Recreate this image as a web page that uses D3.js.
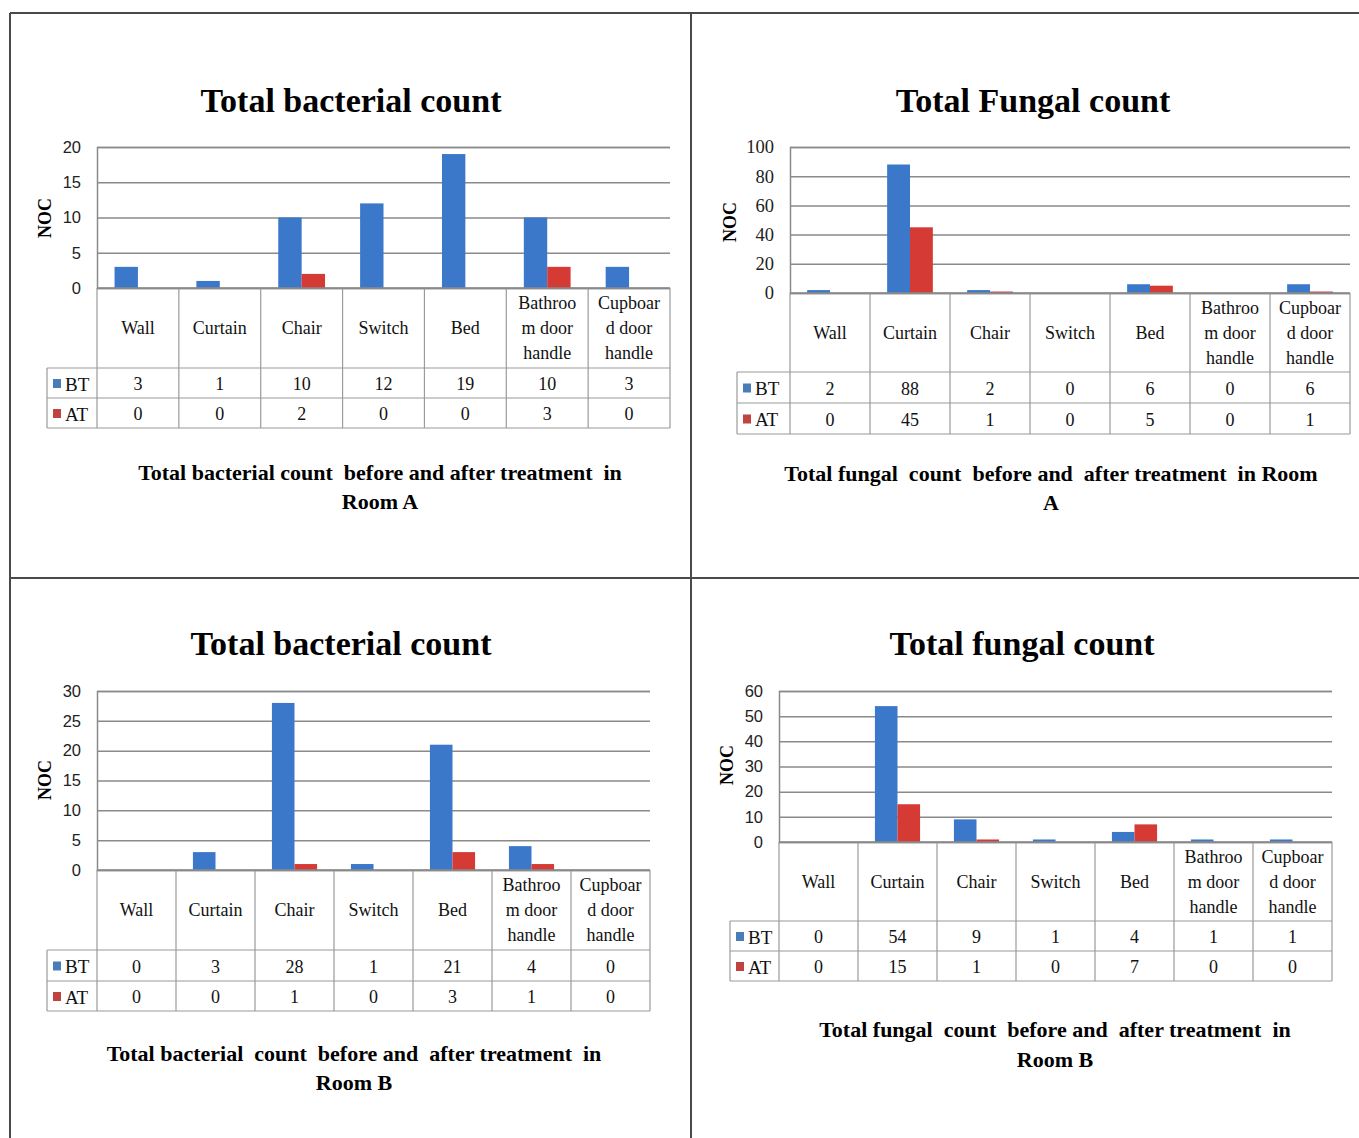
<!DOCTYPE html>
<html><head><meta charset="utf-8">
<script src="https://cdn.jsdelivr.net/npm/d3@7"></script>
<style>
html,body{margin:0;padding:0;background:#fff;}
svg{display:block;}
</style></head>
<body>
<svg id="chart" width="1359" height="1138"></svg>
<script>
// ---------- data ----------
const categories = ["Wall","Curtain","Chair","Switch","Bed","Bathroom door handle","Cupboard door handle"];
const categoryLines = [["Wall"],["Curtain"],["Chair"],["Switch"],["Bed"],["Bathroo","m door","handle"],["Cupboar","d door","handle"]];
const seriesNames = ["BT","AT"];
const bacteriaA_BT = [3,1,10,12,19,10,3];
const bacteriaA_AT = [0,0,2,0,0,3,0];
const fungiA_BT = [2,88,2,0,6,0,6];
const fungiA_AT = [0,45,1,0,5,0,1];
const bacteriaB_BT = [0,3,28,1,21,4,0];
const bacteriaB_AT = [0,0,1,0,3,1,0];
const fungiB_BT = [0,54,9,1,4,1,1];
const fungiB_AT = [0,15,1,0,7,0,0];
const ticksBacA = [0,5,10,15,20];
const ticksFungA = [0,20,40,60,80,100];
const ticksBacB = [0,5,10,15,20,25,30];
const ticksFungB = [0,10,20,30,40,50,60];
const titles = ["Total bacterial count","Total Fungal count","Total bacterial count","Total fungal count"];
const captions = [
  ["Total bacterial count  before and after treatment  in","Room A"],
  ["Total fungal  count  before and  after treatment  in Room","A"],
  ["Total bacterial  count  before and  after treatment  in","Room B"],
  ["Total fungal  count  before and  after treatment  in","Room B"]
];
const yLabel = "NOC";

// ---------- layout ----------
const colors = {BT:"#3b78c9", AT:"#d63a35"};
const legendColors = {BT:"#4a7cb8", AT:"#bf4340"};
const serif = "'Liberation Serif','Times New Roman',serif";
const sans = "'Liberation Sans',Arial,sans-serif";

const panels = [
  {bt:bacteriaA_BT, at:bacteriaA_AT, ticks:ticksBacA, title:titles[0], caption:captions[0],
   left:97, right:670, top:147, bottom:288, rows:[368,398,428], legLeft:47,
   titleX:351, titleY:112, capX:380, capY:[480,509], nocX:45, nocY:218, tickFont:sans, tickSize:16.5},
  {bt:fungiA_BT, at:fungiA_AT, ticks:ticksFungA, title:titles[1], caption:captions[1],
   left:790, right:1350, top:147, bottom:293, rows:[372,403,434], legLeft:737,
   titleX:1033, titleY:112, capX:1051, capY:[481,510], nocX:730, nocY:222, tickFont:serif, tickSize:18.5},
  {bt:bacteriaB_BT, at:bacteriaB_AT, ticks:ticksBacB, title:titles[2], caption:captions[2],
   left:97, right:650, top:691, bottom:870, rows:[950,981,1011], legLeft:47,
   titleX:341, titleY:655, capX:354, capY:[1061,1090], nocX:45, nocY:780, tickFont:sans, tickSize:16.5},
  {bt:fungiB_BT, at:fungiB_AT, ticks:ticksFungB, title:titles[3], caption:captions[3],
   left:779, right:1332, top:691, bottom:842, rows:[921,951,981], legLeft:730,
   titleX:1022, titleY:655, capX:1055, capY:[1037,1067], nocX:727, nocY:765, tickFont:sans, tickSize:16.5}
];

const svg = d3.select("#chart");

// frame lines
const frame = svg.append("g").attr("stroke","#4a4a4a").attr("stroke-width",2);
frame.append("line").attr("x1",10).attr("x2",1359).attr("y1",13).attr("y2",13);
frame.append("line").attr("x1",10).attr("x2",10).attr("y1",13).attr("y2",1138);
frame.append("line").attr("x1",691).attr("x2",691).attr("y1",13).attr("y2",1138);
frame.append("line").attr("x1",10).attr("x2",1359).attr("y1",578).attr("y2",578);

panels.forEach(p => {
  const g = svg.append("g");
  const x = d3.scaleBand().domain(categories).range([p.left, p.right]).paddingInner(0).paddingOuter(0);
  const xs = d3.scaleBand().domain(seriesNames).range([0, x.bandwidth()]).paddingInner(0).paddingOuter(0.75);
  const y = d3.scaleLinear().domain([0, d3.max(p.ticks)]).range([p.bottom, p.top]);

  // title
  g.append("text").attr("x",p.titleX).attr("y",p.titleY).attr("text-anchor","middle")
    .attr("font-family",serif).attr("font-weight","bold").attr("font-size",34).attr("fill","#000")
    .text(p.title);

  // gridlines & y axis
  const yAxis = d3.axisLeft(y).tickValues(p.ticks).tickSize(-(p.right - p.left)).tickPadding(16).tickFormat(d3.format("d"));
  const ag = g.append("g").attr("transform",`translate(${p.left},0)`).call(yAxis);
  ag.select(".domain").attr("stroke","#8a8a8a").attr("stroke-width",1.5);
  ag.selectAll(".tick line").attr("stroke","#8a8a8a").attr("stroke-width",1.5);
  ag.selectAll(".tick text").attr("font-family",p.tickFont).attr("font-size",p.tickSize).attr("fill","#222");

  // NOC label
  g.append("text").attr("transform",`translate(${p.nocX},${p.nocY}) rotate(-90)`)
    .attr("text-anchor","middle").attr("dominant-baseline","central")
    .attr("font-family",serif).attr("font-weight","bold").attr("font-size",18).text(yLabel);

  // bars
  const series = [{name:"BT", values:p.bt},{name:"AT", values:p.at}];
  series.forEach(s => {
    g.append("g").selectAll("rect").data(s.values).join("rect")
      .attr("x",(d,i)=> x(categories[i]) + xs(s.name))
      .attr("width", xs.bandwidth())
      .attr("y", d => y(d))
      .attr("height", d => p.bottom - y(d))
      .attr("fill", colors[s.name]);
  });

  // data table
  const tg = g.append("g").attr("stroke","#9a9a9a").attr("stroke-width",1.2);
  const bounds = categories.map(c => x(c)).concat([p.right]);
  bounds.forEach(bx => {
    tg.append("line").attr("x1",bx).attr("x2",bx).attr("y1",p.bottom).attr("y2",p.rows[2]);
  });
  tg.append("line").attr("x1",p.legLeft).attr("x2",p.legLeft).attr("y1",p.rows[0]).attr("y2",p.rows[2]);
  p.rows.forEach(ry => {
    tg.append("line").attr("x1",p.legLeft).attr("x2",p.right).attr("y1",ry).attr("y2",ry);
  });
  g.append("line").attr("x1",p.left).attr("x2",p.right).attr("y1",p.bottom).attr("y2",p.bottom)
    .attr("stroke","#8a8a8a").attr("stroke-width",1.5);

  // header labels
  const hh = p.rows[0] - p.bottom;
  categories.forEach((c,i) => {
    const lines = categoryLines[i];
    const cx = x(c) + x.bandwidth()/2;
    const lh = 25;
    const startY = p.bottom + hh/2 - (lines.length-1)*lh/2;
    lines.forEach((ln,j) => {
      g.append("text").attr("x",cx).attr("y",startY + j*lh).attr("text-anchor","middle")
        .attr("dominant-baseline","central").attr("font-family",serif).attr("font-size",18)
        .attr("fill","#111").text(ln);
    });
  });

  // value rows
  series.forEach((s,si) => {
    const ry0 = p.rows[si], ry1 = p.rows[si+1];
    const cy = (ry0+ry1)/2;
    g.append("rect").attr("x",p.legLeft+6).attr("y",cy-4).attr("width",8).attr("height",9)
      .attr("fill",legendColors[s.name]);
    g.append("text").attr("x",p.legLeft+18).attr("y",cy+1).attr("dominant-baseline","central")
      .attr("font-family",serif).attr("font-size",19).attr("fill","#111").text(s.name);
    s.values.forEach((v,i) => {
      g.append("text").attr("x", x(categories[i]) + x.bandwidth()/2).attr("y",cy+1)
        .attr("text-anchor","middle").attr("dominant-baseline","central")
        .attr("font-family",serif).attr("font-size",18).attr("fill","#111").text(v);
    });
  });

  // caption
  p.caption.forEach((ln,j) => {
    g.append("text").attr("x",p.capX).attr("y",p.capY[j]).attr("text-anchor","middle")
      .attr("font-family",serif).attr("font-weight","bold").attr("font-size",22)
      .attr("fill","#000").style("white-space","pre").text(ln);
  });
});
</script>
</body></html>
